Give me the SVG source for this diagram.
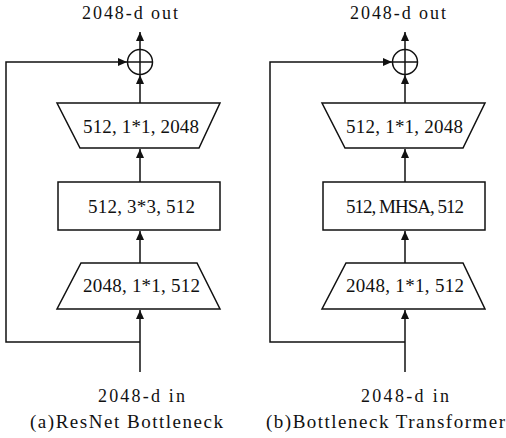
<svg xmlns="http://www.w3.org/2000/svg" width="506" height="438" viewBox="0 0 506 438">
<defs>
<marker id="ah" markerUnits="userSpaceOnUse" markerWidth="9" markerHeight="8" refX="9" refY="4" orient="auto">
<path d="M0,0 L9,4 L0,8 z" fill="#111"/>
</marker>
<style>
.s{fill:none;stroke:#111;stroke-width:1.5}
.b{fill:#fff;stroke:#111;stroke-width:1.5}
.c{stroke:#111;stroke-width:1.5;fill:none;marker-end:url(#ah)}
text{font-family:"Liberation Serif","DejaVu Serif",serif;fill:#111;text-anchor:middle}
.t{font-size:19px}
.l{font-size:18px}
.cap{font-size:19px}
</style>
</defs>
<rect width="506" height="438" fill="#fff"/>
<g id="connectors">
<line class="c" x1="140" y1="372" x2="140" y2="310"/>
<line class="c" x1="140" y1="263" x2="140" y2="231"/>
<line class="c" x1="140" y1="182" x2="140" y2="149"/>
<line class="c" x1="140" y1="103" x2="140" y2="75"/>
<line class="c" x1="140" y1="50" x2="140" y2="32"/>
<polyline class="c" points="140,342 6,342 6,62 127,62"/>
<line class="c" x1="405" y1="372" x2="405" y2="310"/>
<line class="c" x1="405" y1="263" x2="405" y2="231"/>
<line class="c" x1="405" y1="182" x2="405" y2="149"/>
<line class="c" x1="405" y1="103" x2="405" y2="75"/>
<line class="c" x1="405" y1="50" x2="405" y2="32"/>
<polyline class="c" points="405,342 270,342 270,62 392,62"/>
</g>
<g id="a-out"><text class="l" x="130" y="19" textLength="96" lengthAdjust="spacing">2048-d out</text></g>
<g id="a-add"><circle class="b" cx="140" cy="62" r="12.5"/><line class="s" x1="127.5" y1="62" x2="152.5" y2="62"/><line class="s" x1="140" y1="49.5" x2="140" y2="74.5"/></g>
<g id="a-conv3"><polygon class="b" points="57,103 220,103 199,148 80,148"/><text class="t" x="141" y="133" textLength="116" lengthAdjust="spacing">512, 1*1, 2048</text></g>
<g id="a-conv2"><rect class="b" x="58" y="182" width="162" height="48"/><text class="t" x="141.5" y="213" textLength="107" lengthAdjust="spacing">512, 3*3, 512</text></g>
<g id="a-conv1"><polygon class="b" points="81,263 197,263 220,309 57,309"/><text class="t" x="141.5" y="292" textLength="117" lengthAdjust="spacing">2048, 1*1, 512</text></g>
<g id="a-in"><text class="l" x="141.5" y="402" textLength="87" lengthAdjust="spacing">2048-d in</text></g>
<g id="a-caption"><text class="cap" x="126.5" y="428" textLength="193" lengthAdjust="spacing">(a)ResNet Bottleneck</text></g>
<g id="b-out"><text class="l" x="398" y="19" textLength="96" lengthAdjust="spacing">2048-d out</text></g>
<g id="b-add"><circle class="b" cx="405" cy="62" r="12.5"/><line class="s" x1="392.5" y1="62" x2="417.5" y2="62"/><line class="s" x1="405" y1="49.5" x2="405" y2="74.5"/></g>
<g id="b-conv3"><polygon class="b" points="322,103 485,103 463,148 345,148"/><text class="t" x="404.5" y="133" textLength="117" lengthAdjust="spacing">512, 1*1, 2048</text></g>
<g id="b-mhsa"><rect class="b" x="323" y="182" width="162" height="48"/><text class="t" x="405" y="213" textLength="118" lengthAdjust="spacing">512, MHSA, 512</text></g>
<g id="b-conv1"><polygon class="b" points="346,263 463,263 485,309 322,309"/><text class="t" x="405" y="292" textLength="118" lengthAdjust="spacing">2048, 1*1, 512</text></g>
<g id="b-in"><text class="l" x="405" y="402" textLength="88" lengthAdjust="spacing">2048-d in</text></g>
<g id="b-caption"><text class="cap" x="385.5" y="428" textLength="239" lengthAdjust="spacing">(b)Bottleneck Transformer</text></g>
</svg>
